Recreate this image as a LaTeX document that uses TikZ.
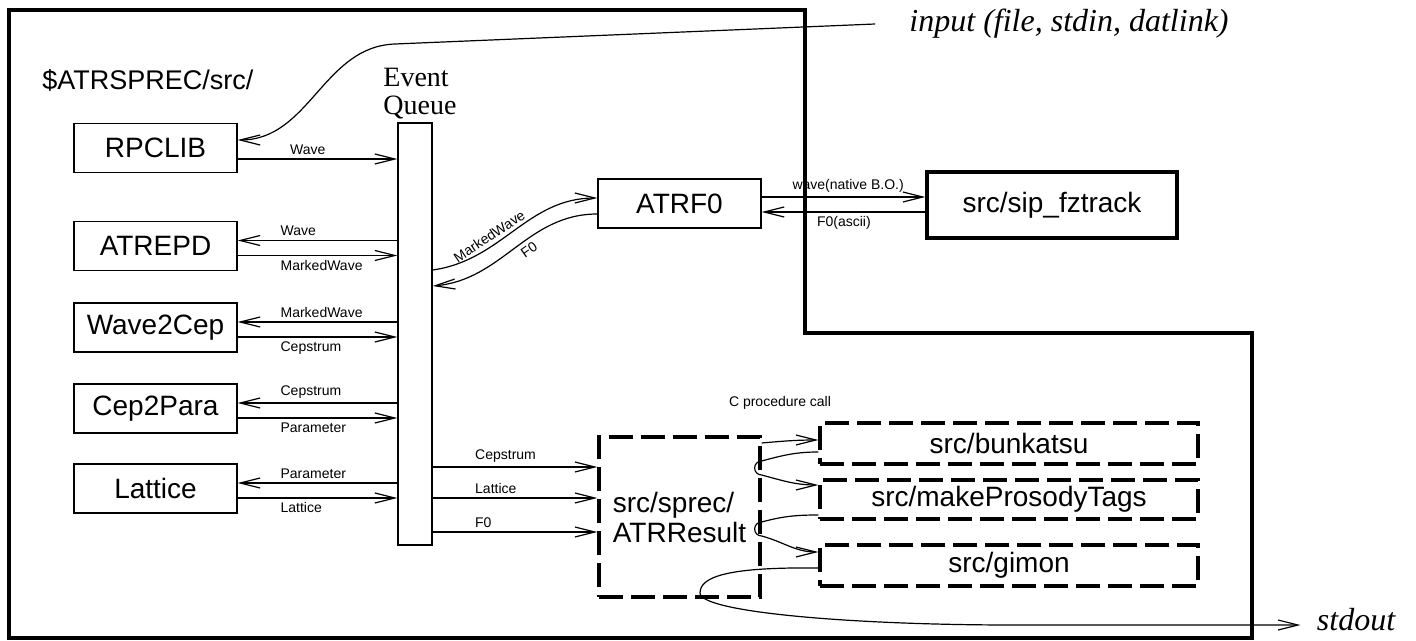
\documentclass[tikz,border=0pt]{standalone}
\usepackage{fontspec}
\setmainfont{Liberation Sans}
\newfontfamily\timesfont{Liberation Serif}
\usetikzlibrary{arrows.meta}

\begin{document}
\begin{tikzpicture}[x=0.5pt, y=-0.5pt,
            flow/.style={line width=0.6pt, -{Straight Barb[length=10pt, width=5pt]}},
            flowback/.style={line width=0.6pt, {Straight Barb[length=10pt, width=5pt]}-},
            plain/.style={draw, line width=0.7pt, inner sep=0pt, minimum width=81.5pt, minimum height=24.5pt, font=\fontsize{14}{16}\selectfont},
            callbox/.style={draw, line width=1.6pt, dash pattern=on 12pt off 4pt, inner sep=0pt, minimum width=189pt, minimum height=20.5pt, font=\fontsize{14}{16}\selectfont},
            lbl/.style={inner sep=2pt, font=\fontsize{7}{8}\selectfont},
            io/.style={inner sep=2pt, font=\timesfont\itshape\fontsize{16}{18}\selectfont}]
            \useasboundingbox (0,0) rectangle (1416,641);
            \draw[line width=1.8pt] (9,10) -- (805,10) -- (805,333) -- (1252,333) -- (1252,638) -- (9,638) -- cycle;
            \node[anchor=west, inner sep=0pt, font=\fontsize{13.5}{16}\selectfont] (srcdir) at (42,80) {\$ATRSPREC/src/};
            \node[anchor=south west, inner sep=0pt, align=left, font=\timesfont\fontsize{14}{14}\selectfont] (qlabel) at (383,119) {Event\\Queue};
            \node[io] (inputtxt) at (1069,24) {input (file, stdin, datlink)};
            \node[io] (stdout) at (1356,620) {stdout};
            \node[plain] (RPCLIB) at (155.5,148) {RPCLIB};
            \node[plain] (ATREPD) at (155.5,246) {ATREPD};
            \node[plain] (Wave2Cep) at (155.5,327.5) {Wave2Cep};
            \node[plain] (Cep2Para) at (155.5,408.5) {Cep2Para};
            \node[plain] (Lattice) at (155.5,488.5) {Lattice};
            \node[plain, minimum width=17pt, minimum height=211pt] (queue) at (415,334) {};
            \node[plain] (ATRF0) at (679.5,203.5) {ATRF0};
            \node[plain, line width=1.6pt, minimum width=125pt, minimum height=33pt] (sip) at (1052,205) {src/sip\_fztrack};
            \node[callbox, minimum width=80.5pt, minimum height=80pt, align=left, font=\fontsize{14}{15}\selectfont] (res) at (679.5,517) {src/sprec/\\ATRResult};
            \node[callbox] (bunk) at (1009,443.5) {src/bunkatsu};
            \node[callbox, minimum height=19.5pt] (prosody) at (1009,499.5) {src/makeProsodyTags};
            \node[callbox] (gimon) at (1009,565.5) {src/gimon};
            \node[lbl] (ccall) at (780,403) {C procedure call};
            \coordinate (bend) at (395,44);
            \draw[flow] ([xshift=-15pt]inputtxt.west) -- (bend) to[out=182, in=0] ([yshift=4pt]RPCLIB.east);
            \draw[flow] ([yshift=-5.5pt]RPCLIB.east) -- ([yshift=-5.5pt]RPCLIB.east -| queue.west) node[lbl, pos=0.3, anchor=south west] {Wave};
            \draw[flowback] ([yshift=2.75pt]ATREPD.east) -- ([yshift=2.75pt]ATREPD.east -| queue.west) node[lbl, pos=0.24, anchor=south west] {Wave};
            \draw[flow] ([yshift=-4.75pt]ATREPD.east) -- ([yshift=-4.75pt]ATREPD.east -| queue.west) node[lbl, pos=0.24, anchor=north west] {MarkedWave};
            \draw[flowback] ([yshift=2.75pt]Wave2Cep.east) -- ([yshift=2.75pt]Wave2Cep.east -| queue.west) node[lbl, pos=0.24, anchor=south west] {MarkedWave};
            \draw[flow] ([yshift=-4.75pt]Wave2Cep.east) -- ([yshift=-4.75pt]Wave2Cep.east -| queue.west) node[lbl, pos=0.24, anchor=north west] {Cepstrum};
            \draw[flowback] ([yshift=2.75pt]Cep2Para.east) -- ([yshift=2.75pt]Cep2Para.east -| queue.west) node[lbl, pos=0.24, anchor=south west] {Cepstrum};
            \draw[flow] ([yshift=-4.75pt]Cep2Para.east) -- ([yshift=-4.75pt]Cep2Para.east -| queue.west) node[lbl, pos=0.24, anchor=north west] {Parameter};
            \draw[flowback] ([yshift=2.75pt]Lattice.east) -- ([yshift=2.75pt]Lattice.east -| queue.west) node[lbl, pos=0.24, anchor=south west] {Parameter};
            \draw[flow] ([yshift=-4.75pt]Lattice.east) -- ([yshift=-4.75pt]Lattice.east -| queue.west) node[lbl, pos=0.24, anchor=north west] {Lattice};
            \draw[flow] ([yshift=32pt]queue.east) to[out=8, in=180] node[lbl, sloped, pos=0.36, above] {MarkedWave} ([yshift=2.75pt]ATRF0.west);
            \draw[flowback] ([yshift=24pt]queue.east) to[out=5, in=180] node[lbl, sloped, pos=0.56, below] {F0} ([yshift=-5.25pt]ATRF0.west);
            \draw[flow] ([yshift=3.25pt]ATRF0.east) -- ([yshift=3.25pt]ATRF0.east -| sip.west) node[lbl, pos=0.16, anchor=south west] {wave(native B.O.)};
            \draw[flowback] ([yshift=-4.25pt]ATRF0.east) -- ([yshift=-4.25pt]ATRF0.east -| sip.west) node[lbl, pos=0.31, anchor=north west] {F0(ascii)};
            \draw[flow] ([yshift=25pt]res.west -| queue.east) -- ([yshift=25pt]res.west) node[lbl, pos=0.23, anchor=south west] {Cepstrum};
            \draw[flow] ([yshift=9.5pt]res.west -| queue.east) -- ([yshift=9.5pt]res.west) node[lbl, pos=0.23, anchor=south west] {Lattice};
            \draw[flow] ([yshift=-7.5pt]res.west -| queue.east) -- ([yshift=-7.5pt]res.west) node[lbl, pos=0.23, anchor=south west] {F0};
            \draw[flow] ([yshift=37pt]res.east) to[out=5, in=180] ([yshift=1.75pt]bunk.west);
            \draw[flow] ([yshift=-4.25pt]bunk.west) to[out=180, in=15] ([yshift=28pt]res.east) arc[start angle=90, end angle=270, radius=3.5pt] to[out=-15, in=180] ([yshift=7.25pt]prosody.west);
            \draw[flow] ([yshift=-7.75pt]prosody.west) to[out=180, in=15] ([yshift=-2.5pt]res.east) arc[start angle=90, end angle=270, radius=3.5pt] to[out=-15, in=180] ([yshift=6.75pt]gimon.west);
            \draw[flow, shorten >=6pt] ([yshift=-1.25pt]gimon.west) .. controls (730,567) and (700,576) .. (700,593) .. controls (700,612) and (850,625) .. (1013,625) -- ([yshift=-2.5pt]stdout.west);
\end{tikzpicture}
\end{document}
